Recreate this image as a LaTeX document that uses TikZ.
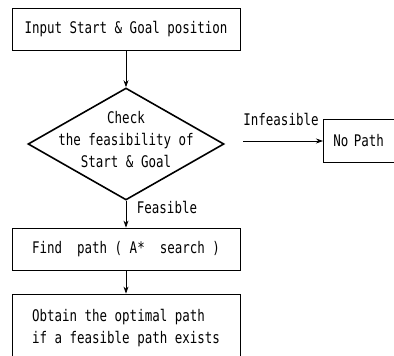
\documentclass[tikz,border=0pt]{standalone}
\usepackage{fontspec}
\newfontfamily\flowfont[FakeStretch=0.78]{DejaVu Sans Mono}
\usetikzlibrary{shapes.geometric,arrows.meta}

\begin{document}
\begin{tikzpicture}[x=1pt,y=-1pt,
  every node/.style={font=\flowfont\fontsize{16}{22}\selectfont},
  box/.style={draw,line width=0.8pt,minimum width=228pt,minimum height=42pt,inner sep=0pt,align=center},
  decide/.style={draw,diamond,line width=1.6pt,minimum width=196pt,minimum height=112pt,inner sep=0pt},
  flow/.style={-{Stealth[length=7pt,width=5pt]},line width=0.8pt}]
\useasboundingbox (0,0) rectangle (394,356);
\clip (0,0) rectangle (394,356);
\node[box] (input) at (126,29) {Input Start \& Goal position};
\node[decide] (check) at (126,144) {};
\node[align=center] (checktext) at (126,140) {Check\\the feasibility of\\Start \& Goal};
\node[box] (find) at (126,249) {Find~~path ( A*~~search )};
\node[box,minimum height=68pt,align=left] (obtain) at (126,328) {Obtain the optimal path\\if a feasible path exists};
\node[draw,line width=0.8pt,anchor=west,minimum height=43pt,text width=80pt,inner sep=10pt] (nopath) at (323,141) {No Path};
\coordinate (infeas) at (243,141);
\node (infeastext) at (281,119) {Infeasible};
\node (feastext) at (167,207) {Feasible};
\draw[flow] (input) -- (check);
\draw[flow] (check) -- (find);
\draw[flow] (find) -- (obtain);
\draw[flow] (infeas) -- (nopath);
\end{tikzpicture}
\end{document}
